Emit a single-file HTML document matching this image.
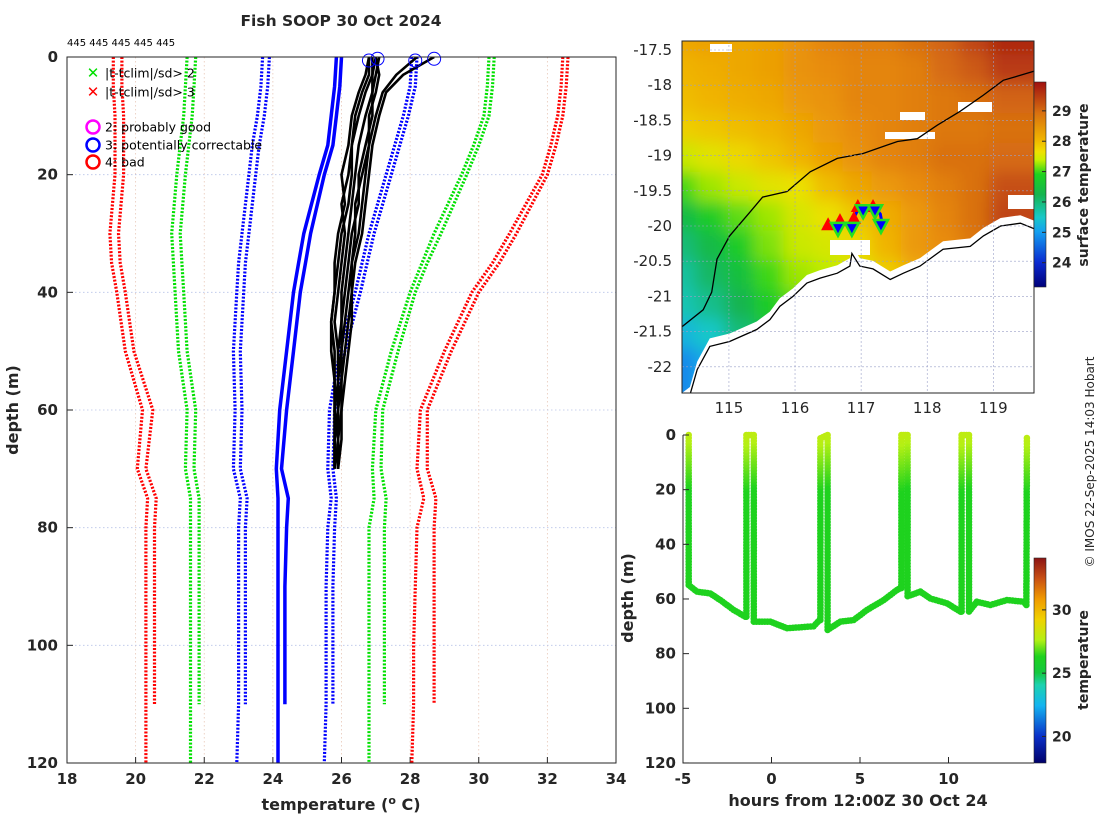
<!DOCTYPE html>
<html><head><meta charset="utf-8">
<style>
html,body{margin:0;padding:0;background:#fff;}
svg{display:block;font-family:"DejaVu Sans","Liberation Sans",sans-serif;}
.b{font-weight:bold;fill:#262626;}
</style></head>
<body>
<svg id="fig" width="1100" height="820" viewBox="0 0 1100 820" xmlns="http://www.w3.org/2000/svg">
<defs>
<clipPath id="clipL"><rect x="67" y="57" width="549" height="706"/></clipPath>
<clipPath id="clipM"><rect x="682" y="41" width="352" height="352"/></clipPath>
<filter id="blur" x="-5%" y="-5%" width="110%" height="110%"><feGaussianBlur stdDeviation="8"/></filter>
<linearGradient id="cbSST" x1="0" y1="1" x2="0" y2="0">
<stop offset="0" stop-color="#00007a"/><stop offset="0.12" stop-color="#0a2ad0"/><stop offset="0.27" stop-color="#14a0f0"/>
<stop offset="0.34" stop-color="#18c8c8"/><stop offset="0.45" stop-color="#14b450"/><stop offset="0.55" stop-color="#1ed21e"/>
<stop offset="0.62" stop-color="#c8f000"/><stop offset="0.66" stop-color="#f0e000"/><stop offset="0.72" stop-color="#f0b400"/>
<stop offset="0.85" stop-color="#d87010"/><stop offset="1" stop-color="#a01010"/></linearGradient>
<linearGradient id="cbT" x1="0" y1="1" x2="0" y2="0">
<stop offset="0" stop-color="#00006a"/><stop offset="0.13" stop-color="#0a30c8"/><stop offset="0.28" stop-color="#14b4f0"/>
<stop offset="0.38" stop-color="#1cd2b0"/><stop offset="0.44" stop-color="#14c840"/><stop offset="0.52" stop-color="#1ed21e"/>
<stop offset="0.6" stop-color="#b4f014"/><stop offset="0.7" stop-color="#f0d200"/><stop offset="0.8" stop-color="#f09a00"/>
<stop offset="0.9" stop-color="#c85014"/><stop offset="1" stop-color="#8c1414"/></linearGradient>
</defs>

<text x="341" y="26" text-anchor="middle" class="b" font-size="15.5">Fish SOOP 30 Oct 2024</text>
<text x="67" y="46" font-size="10" fill="#000">445 445 445 445 445</text>

<g id="left"></g>
<g id="map"></g>
<g id="sect"></g>

<text transform="translate(1094,462) rotate(-90)" text-anchor="middle" font-size="12" fill="#262626">© IMOS 22-Sep-2025 14:03 Hobart</text>
</svg>

<script>
// ===== Profile plot data =====
const climDepths = [0,5,10,15,20,30,35,40,50,60,70,75,80,90,100,110,120];
const redLeftA   = [19.35,19.35,19.4,19.4,19.4,19.25,19.3,19.45,19.7,20.2,20.05,20.35,20.3,20.3,20.3,20.3,20.3];
const redLeftB   = [19.6,19.6,19.65,19.65,19.65,19.5,19.55,19.7,19.95,20.5,20.3,20.6,20.55,20.55,20.55,20.55,null];
const greenLeftA = [21.5,21.45,21.4,21.3,21.2,21.05,21.1,21.15,21.25,21.5,21.45,21.6,21.6,21.6,21.6,21.6,21.6];
const greenLeftB = [21.75,21.7,21.65,21.55,21.45,21.3,21.35,21.4,21.5,21.75,21.7,21.85,21.85,21.85,21.85,21.85,null];
const blueLeftA  = [23.7,23.65,23.55,23.4,23.3,23.1,23.0,22.95,22.85,22.9,22.85,23.05,23.0,23.0,23.0,23.0,22.95];
const blueLeftB  = [23.9,23.85,23.75,23.6,23.5,23.3,23.2,23.15,23.05,23.1,23.05,23.25,23.2,23.2,23.2,23.2,null];
const meanA      = [25.85,25.8,25.7,25.6,25.35,24.9,24.75,24.6,24.4,24.2,24.1,24.15,24.15,24.15,24.15,24.15,24.15];
const meanB      = [26.0,25.95,25.85,25.75,25.5,25.1,24.95,24.8,24.6,24.4,24.25,24.45,24.4,24.35,24.35,24.35,null];
const blueRightA = [28.05,28.0,27.8,27.55,27.3,26.8,26.6,26.4,25.95,25.65,25.6,25.7,25.6,25.55,25.55,25.55,25.5];
const blueRightB = [28.2,28.15,27.95,27.7,27.45,26.95,26.75,26.55,26.1,25.8,25.75,25.85,25.8,25.75,25.75,25.75,null];
const greenRightA= [30.3,30.25,30.15,29.85,29.5,28.7,28.35,28.0,27.45,27.0,26.9,26.95,26.8,26.8,26.8,26.8,26.8];
const greenRightB= [30.45,30.4,30.3,30.0,29.65,28.9,28.5,28.15,27.65,27.2,27.15,27.3,27.25,27.25,27.25,27.25,null];
const redRightA  = [32.45,32.4,32.3,32.1,31.85,30.9,30.4,29.8,29.0,28.3,28.2,28.4,28.2,28.15,28.1,28.1,28.05];
const redRightB  = [32.6,32.55,32.45,32.25,32.0,31.1,30.6,30.0,29.2,28.5,28.5,28.75,28.7,28.7,28.7,28.7,null];

const profDepths = [0,3,6,10,15,20,25,30,35,40,45,50,55,60,65,70];
const prof1 = [26.8,26.7,26.5,26.3,26.2,26.0,26.1,25.9,25.8,25.8,25.7,25.7,25.8,25.8,25.8,25.8];
const prof2 = [26.9,26.9,26.7,26.5,26.3,26.2,26.0,26.1,26.0,25.9,25.8,25.9,25.9,25.8,25.9,25.9];
const prof3 = [27.0,26.9,26.9,26.7,26.5,26.4,26.3,26.2,26.1,26.0,26.0,25.9,25.9,25.9,25.8,25.8];
const prof4 = [27.1,27.0,26.9,26.9,26.7,26.5,26.5,26.3,26.2,26.1,26.0,26.0,25.9,25.9,25.9,25.9];
const prof5 = [27.0,27.1,27.0,26.8,26.8,26.6,26.4,26.4,26.3,26.2,26.1,26.0,26.0,25.9,25.8,25.9];
const prof6 = [28.2,27.6,27.2,27.0,26.8,26.7,26.6,26.5,26.3,26.3,26.2,26.1,26.0,26.0,25.9,25.9];
const prof7 = [28.7,27.8,27.3,27.1,26.9,26.8,26.7,26.6,26.4,26.3,26.3,26.2,26.1,26.0,26.0,25.9];
const prof8 = [26.8,26.8,26.6,26.4,26.3,26.3,26.2,26.0,25.9,25.8,25.7,25.8,25.8,25.8,25.8,25.8];
const flagTemps  = [26.8,27.05,28.15,28.7];
const flagDepths = [0.6,0.3,0.6,0.3];
const tempTicks  = [18,20,22,24,26,28,30,32,34];
const depthTicks = [0,20,40,60,80,100,120];

// ===== Map data =====
const lonTicks = [115,116,117,118,119];
const latTicks = [-17.5,-18,-18.5,-19,-19.5,-20,-20.5,-21,-21.5,-22];
const sstTicks = [24,25,26,27,28,29];
const gridLon0 = 114.29, gridDLon = 0.444, gridLat0 = -17.37, gridDLat = 0.418;
const sstGrid = [
 [28.1,28.2,28.1,28.2,28.4,28.6,28.7,28.7,28.9,29.1,29.4,29.7],
 [27.9,28.0,28.1,28.2,28.4,28.5,28.6,28.6,28.7,29.0,29.2,29.5],
 [27.8,27.9,28.0,28.1,28.3,28.4,28.6,28.6,28.7,28.8,28.9,29.1],
 [27.6,27.7,27.8,27.9,28.1,28.3,28.5,28.6,28.7,28.8,28.8,28.9],
 [27.1,27.3,27.5,27.7,27.9,28.2,28.4,28.6,28.7,28.9,28.9,29.0],
 [26.6,26.9,27.1,27.3,27.4,27.8,28.1,28.3,28.5,28.7,28.9,29.3],
 [26.1,26.4,26.7,26.9,27.2,27.4,27.7,28.0,28.3,28.6,28.9,29.4],
 [25.8,26.1,26.4,26.8,27.1,27.2,27.5,27.9,28.3,28.5,28.8,29.3],
 [25.6,25.9,26.2,26.6,26.9,27.0,27.2,27.6,28.0,28.4,28.6,28.8],
 [25.5,25.7,26.0,26.4,26.7,26.8,27.0,27.3,27.8,28.2,28.4,28.6],
 [25.2,25.4,25.8,26.2,26.5,26.6,26.8,27.0,27.5,28.0,28.2,28.4],
 [24.8,25.1,25.6,26.0,26.3,26.5,26.6,26.8,27.2,27.8,28.0,28.2]];
const coastLon = [114.41,114.52,114.71,115.01,115.42,115.62,115.77,115.97,116.18,116.38,116.64,116.83,116.86,116.98,117.18,117.44,117.64,117.89,118.24,118.65,118.85,119.11,119.41,119.62];
const coastLat = [-22.40,-22.04,-21.71,-21.64,-21.47,-21.33,-21.14,-21.00,-20.81,-20.74,-20.67,-20.57,-20.39,-20.57,-20.61,-20.76,-20.67,-20.57,-20.33,-20.29,-20.14,-20.00,-19.96,-20.04];
const isoLon = [114.29,114.61,114.74,114.82,115.01,115.32,115.51,115.88,116.23,116.64,117.03,117.55,117.85,118.15,118.50,118.85,119.15,119.41,119.62];
const isoLat = [-21.43,-21.19,-20.94,-20.47,-20.14,-19.80,-19.59,-19.51,-19.23,-19.04,-18.97,-18.80,-18.76,-18.57,-18.37,-18.14,-17.93,-17.86,-17.80];
const trackLon = [116.50,116.68,116.85,116.94,117.06,117.21,117.29,117.32];
const trackLat = [-19.99,-19.96,-19.96,-19.79,-19.74,-19.74,-19.83,-19.97];
const upLon = [116.50,116.68,116.89,116.95,117.18];
const upLat = [-19.99,-19.93,-19.90,-19.73,-19.73];
const downLon = [116.65,116.86,117.03,117.21,117.30];
const downLat = [-20.04,-20.04,-19.79,-19.79,-20.00];

// ===== Section data =====
const secHours = [-4.68,-4.68,-4.21,-3.46,-2.89,-2.14,-1.48,-1.42,-1.42,-1.0,-1.0,-0.07,0.88,2.38,2.72,2.76,2.76,3.17,3.17,3.89,4.64,5.4,6.34,7.09,7.28,7.34,7.34,7.69,7.69,8.41,8.97,9.92,10.67,10.74,10.74,11.16,11.16,11.6,12.36,13.3,14.25,14.4,14.43];
const secDepths= [0,54.9,57.3,58,60.4,64,66.5,66.5,0,0,68.3,68.3,70.7,70,67.7,67.7,1.2,0,71.3,68.3,67.7,64,60.4,56.7,56,56,0,0,59,57.3,59.8,61.6,64.6,64.6,0,0,64.6,61,62.2,60.4,61,62.2,0];
const hourTicks = [-5,0,5,10];
const secDepthTicks = [0,20,40,60,80,100,120];
const cbTTicks = [20,25,30];

// ===== helpers =====
const NS = 'http://www.w3.org/2000/svg';
function mk(parent, tag, attrs){const e=document.createElementNS(NS,tag);for(const k in attrs)e.setAttribute(k,attrs[k]);parent.appendChild(e);return e;}

// ----- Profile plot -----
const L = document.getElementById('left');
const xT = t => 67 + (t-18)/(34-18)*549;
const yD = d => 57 + d/120*706;
tempTicks.forEach(t=>{
  const g=mk(L,'line',{x1:xT(t),x2:xT(t),y1:57,y2:763,stroke:'#e8c8b8','stroke-width':0.8,'stroke-dasharray':'1.5 2.5'});
  
  
  const tk=mk(L,'line',{x1:xT(t),x2:xT(t),y1:763,y2:757,stroke:'#262626','stroke-width':1});
  
  
  const lb=mk(L,'text',{x:xT(t),y:784,'text-anchor':'middle','font-size':15,class:'b'});lb.textContent=t;
  
  
});
depthTicks.forEach(d=>{
  const g=mk(L,'line',{x1:67,x2:616,y1:yD(d),y2:yD(d),stroke:'#b8c4e8','stroke-width':0.8,'stroke-dasharray':'1.5 2.5'});
  
  
  const tk=mk(L,'line',{x1:67,x2:73,y1:yD(d),y2:yD(d),stroke:'#262626','stroke-width':1});
  
  
  const lb=mk(L,'text',{x:58,y:yD(d)+5,'text-anchor':'end','font-size':15,class:'b'});lb.textContent=d;
  
  
});
const climSeries = [
 [redLeftA,'#ff0000','clim-minus3sd'],[redLeftB,'#ff0000','clim-minus3sd-alt'],
 [greenLeftA,'#00e000','clim-minus2sd'],[greenLeftB,'#00e000','clim-minus2sd-alt'],
 [blueLeftA,'#0000ff','clim-minus1sd'],[blueLeftB,'#0000ff','clim-minus1sd-alt'],
 [blueRightA,'#0000ff','clim-plus1sd'],[blueRightB,'#0000ff','clim-plus1sd-alt'],
 [greenRightA,'#00e000','clim-plus2sd'],[greenRightB,'#00e000','clim-plus2sd-alt'],
 [redRightA,'#ff0000','clim-plus3sd'],[redRightB,'#ff0000','clim-plus3sd-alt']];
const cg = mk(L,'g',{'clip-path':'url(#clipL)'});
climSeries.forEach(s=>{
  const pts=[];s[0].forEach((v,i)=>{if(v!==null)pts.push(xT(v).toFixed(1)+','+yD(climDepths[i]).toFixed(1));});
  const p=mk(cg,'polyline',{points:pts.join(' '),fill:'none',stroke:s[1],'stroke-width':3.2,'stroke-dasharray':'2 1.6'});
  
  
});
[[meanA,'clim-mean'],[meanB,'clim-mean-alt']].forEach(s=>{
  const pts=[];s[0].forEach((v,i)=>{if(v!==null)pts.push(xT(v).toFixed(1)+','+yD(climDepths[i]).toFixed(1));});
  const p=mk(cg,'polyline',{points:pts.join(' '),fill:'none',stroke:'#0000ff','stroke-width':3.5});
  
  
});
[prof1,prof2,prof3,prof4,prof5,prof6,prof7,prof8].forEach(pr=>{
  const pts=pr.map((v,i)=>xT(v).toFixed(1)+','+yD(profDepths[i]).toFixed(1)).join(' ');
  const p=mk(cg,'polyline',{points:pts,fill:'none',stroke:'#000','stroke-width':2.6,'stroke-linejoin':'round'});
  
  
});
flagTemps.forEach((t,i)=>{
  const c=mk(L,'circle',{cx:xT(t),cy:yD(flagDepths[i]),r:6.5,fill:'none',stroke:'#0000ff','stroke-width':1});
  
  
});
const fr=mk(L,'rect',{x:67,y:57,width:549,height:706,fill:'none',stroke:'#262626','stroke-width':1});


// legend
const lg=mk(L,'g',{});


[['#00e000',73,'|t-tclim|/sd> 2'],['#ff0000',92,'|t-tclim|/sd> 3']].forEach(e=>{
  const x=mk(lg,'text',{x:93,y:e[1]+5,'text-anchor':'middle','font-size':15,'font-weight':'bold',fill:e[0]});x.textContent='✕';
  
  
  const t=mk(lg,'text',{x:105,y:e[1]+4.5,'font-size':12.5,fill:'#000'});t.textContent=e[2];
  
  
});
[['#ff00ff',127,'2: probably good'],['#0000ff',145,'3: potentially correctable'],['#ff0000',162,'4: bad']].forEach(e=>{
  const c=mk(lg,'circle',{cx:93,cy:e[1],r:6.5,fill:'none',stroke:e[0],'stroke-width':2.5});
  
  
  const t=mk(lg,'text',{x:105,y:e[1]+4.5,'font-size':12.5,fill:'#000'});t.textContent=e[2];
  
  
});
const xl=mk(L,'text',{x:341,y:810,'text-anchor':'middle','font-size':16,class:'b'});
xl.innerHTML='temperature (<tspan dy="-6" font-size="11">o</tspan><tspan dy="6"> C)</tspan>';


const yl=mk(L,'text',{transform:'translate(18,410) rotate(-90)','text-anchor':'middle','font-size':16,class:'b'});yl.textContent='depth (m)';



// ----- Map -----
const M = document.getElementById('map');
const mx = lon => 682 + (lon-114.29)*66.1;
const my = lat => 50 + (-17.5-lat)*70.4;
const sstStops=[[23.2,[0,0,122]],[24,[10,42,208]],[25,[20,160,240]],[25.4,[24,200,200]],[26,[20,180,80]],[26.5,[30,210,30]],[27.0,[190,235,0]],[27.4,[235,225,0]],[27.9,[240,180,0]],[28.5,[232,140,10]],[29.1,[210,100,20]],[29.9,[160,16,16]]];
function cmap(stops,v){if(v<=stops[0][0])return 'rgb('+stops[0][1]+')';for(let i=1;i<stops.length;i++){if(v<=stops[i][0]){const a=stops[i-1],b=stops[i],f=(v-a[0])/(b[0]-a[0]);return 'rgb('+a[1].map((c,k)=>Math.round(c+(b[1][k]-c)*f)).join(',')+')';}}return 'rgb('+stops[stops.length-1][1]+')';}
const mg=mk(M,'g',{'clip-path':'url(#clipM)'});
const hg=mk(mg,'g',{filter:'url(#blur)'});
sstGrid.forEach((row,r)=>row.forEach((v,c)=>{
  const x0=mx(gridLon0+c*gridDLon), y0=my(gridLat0-r*gridDLat);
  const cell=mk(hg,'rect',{x:x0-16,y:y0-16,width:mx(gridLon0+gridDLon)-mx(gridLon0)+32,height:my(gridLat0-gridDLat)-my(gridLat0)+32,fill:cmap(sstStops,v)});
  
  
}));
// cloud/no-data patches
[[710,44,22,8],[900,112,25,8],[958,102,34,10],[885,132,50,7],[1008,195,26,14],[830,240,40,15]].forEach(p=>{
  const w=mk(mg,'rect',{x:p[0],y:p[1],width:p[2],height:p[3],fill:'#fff'});
  
  
});
// land
let lp=coastLon.map((v,i)=>mx(v).toFixed(1)+','+my(coastLat[i]).toFixed(1));
const nd=mk(mg,'polygon',{points:lp.map(s=>{const [a,b]=s.split(',');return a+','+(b-8);}).join(' ')+' 1034,393 682,393',fill:'#fff'});


const cl=mk(mg,'polyline',{points:lp.join(' '),fill:'none',stroke:'#000','stroke-width':1.3});


const iso=mk(mg,'polyline',{points:isoLon.map((v,i)=>mx(v).toFixed(1)+','+my(isoLat[i]).toFixed(1)).join(' '),fill:'none',stroke:'#000','stroke-width':1.3});


lonTicks.forEach(t=>{
  const g=mk(M,'line',{x1:mx(t),x2:mx(t),y1:41,y2:393,stroke:'#9aa0c8','stroke-width':0.6,'stroke-dasharray':'2 2'});
  
  
  const lb=mk(M,'text',{x:mx(t),y:413,'text-anchor':'middle','font-size':15,fill:'#262626'});lb.textContent=t;
  
  
});
latTicks.forEach(t=>{
  const g=mk(M,'line',{x1:682,x2:1034,y1:my(t),y2:my(t),stroke:'#9aa0c8','stroke-width':0.6,'stroke-dasharray':'2 2'});
  
  
  const lb=mk(M,'text',{x:672,y:my(t)+5,'text-anchor':'end','font-size':15,fill:'#262626'});lb.textContent=t;
  
  
});
const tr=mk(M,'polyline',{points:trackLon.map((v,i)=>mx(v).toFixed(1)+','+my(trackLat[i]).toFixed(1)).join(' '),fill:'none',stroke:'#0000ff','stroke-width':3});


upLon.forEach((v,i)=>{const x=mx(v),y=my(upLat[i]);
  const t=mk(M,'polygon',{points:`${x},${y-8} ${x-7},${y+5} ${x+7},${y+5}`,fill:'#ff0000'});
  
  });
downLon.forEach((v,i)=>{const x=mx(v),y=my(downLat[i]);
  const t=mk(M,'polygon',{points:`${x-7},${y-6} ${x+7},${y-6} ${x},${y+7}`,fill:'#0000ff',stroke:'#22e022','stroke-width':2.5});
  
  });
const mf=mk(M,'rect',{x:682,y:41,width:352,height:352,fill:'none',stroke:'#262626','stroke-width':1});


// map colorbar
const cbY = v => 287 - (v-23.2)/(29.95-23.2)*205;
const cb=mk(M,'rect',{x:1034,y:82,width:12,height:205,fill:'url(#cbSST)',stroke:'#262626','stroke-width':0.6});


sstTicks.forEach(t=>{
  mk(M,'line',{x1:1042,x2:1046,y1:cbY(t),y2:cbY(t),stroke:'#262626'});
  const lb=mk(M,'text',{x:1052,y:cbY(t)+5,'font-size':14,class:'b'});lb.textContent=t;
  
  
});
const ct=mk(M,'text',{transform:'translate(1088,185) rotate(-90)','text-anchor':'middle','font-size':14,class:'b'});ct.textContent='surface temperature';



// ----- Section -----
const S = document.getElementById('sect');
const sx = h => 683 + (h+5)*17.7;
const sy = d => 435 + d*2.733;
const tStops=[[17.9,[0,0,106]],[20,[10,48,200]],[22,[20,180,240]],[23.5,[28,210,176]],[24.2,[20,200,64]],[25.5,[30,210,30]],[27,[180,240,20]],[29,[240,210,0]],[31,[240,154,0]],[33,[200,80,20]],[34.1,[140,20,20]]];
const sg=mk(S,'g',{});
for(let i=1;i<secHours.length;i++){
  const h0=secHours[i-1],h1=secHours[i],d0=secDepths[i-1],d1=secDepths[i];
  const n=Math.max(2,Math.ceil(Math.hypot(sx(h1)-sx(h0),sy(d1)-sy(d0))/3));
  for(let k=0;k<n;k++){
    const f=k/n,h=h0+(h1-h0)*f,d=d0+(d1-d0)*f;
    const temp = d<20 ? 27.3-d*0.09 : 25.5;
    const c=mk(sg,'circle',{cx:sx(h).toFixed(1),cy:sy(d).toFixed(1),r:3.3,fill:cmap(tStops,temp)});
    
    
  }
}
const ax1=mk(S,'path',{d:'M683,435 V763 H1034',fill:'none',stroke:'#262626','stroke-width':1});


hourTicks.forEach(t=>{
  mk(S,'line',{x1:sx(t),x2:sx(t),y1:763,y2:757,stroke:'#262626'});
  const lb=mk(S,'text',{x:sx(t),y:784,'text-anchor':'middle','font-size':15,class:'b'});lb.textContent=t;
  
  
});
secDepthTicks.forEach(d=>{
  mk(S,'line',{x1:683,x2:689,y1:sy(d),y2:sy(d),stroke:'#262626'});
  const lb=mk(S,'text',{x:676,y:sy(d)+5,'text-anchor':'end','font-size':15,class:'b'});lb.textContent=d;
  
  
});
const sxl=mk(S,'text',{x:858,y:806,'text-anchor':'middle','font-size':16,class:'b'});sxl.textContent='hours from 12:00Z 30 Oct 24';


const syl=mk(S,'text',{transform:'translate(633,598) rotate(-90)','text-anchor':'middle','font-size':16,class:'b'});syl.textContent='depth (m)';


const cbtY = v => 763 - (v-17.9)/(34.1-17.9)*205;
const cb2=mk(S,'rect',{x:1034,y:558,width:12,height:205,fill:'url(#cbT)',stroke:'#262626','stroke-width':0.6});


cbTTicks.forEach(t=>{
  mk(S,'line',{x1:1042,x2:1046,y1:cbtY(t),y2:cbtY(t),stroke:'#262626'});
  const lb=mk(S,'text',{x:1052,y:cbtY(t)+5,'font-size':14,class:'b'});lb.textContent=t;
  
  
});
const ct2=mk(S,'text',{transform:'translate(1088,660) rotate(-90)','text-anchor':'middle','font-size':14,class:'b'});ct2.textContent='temperature';


</script>
</body></html>
